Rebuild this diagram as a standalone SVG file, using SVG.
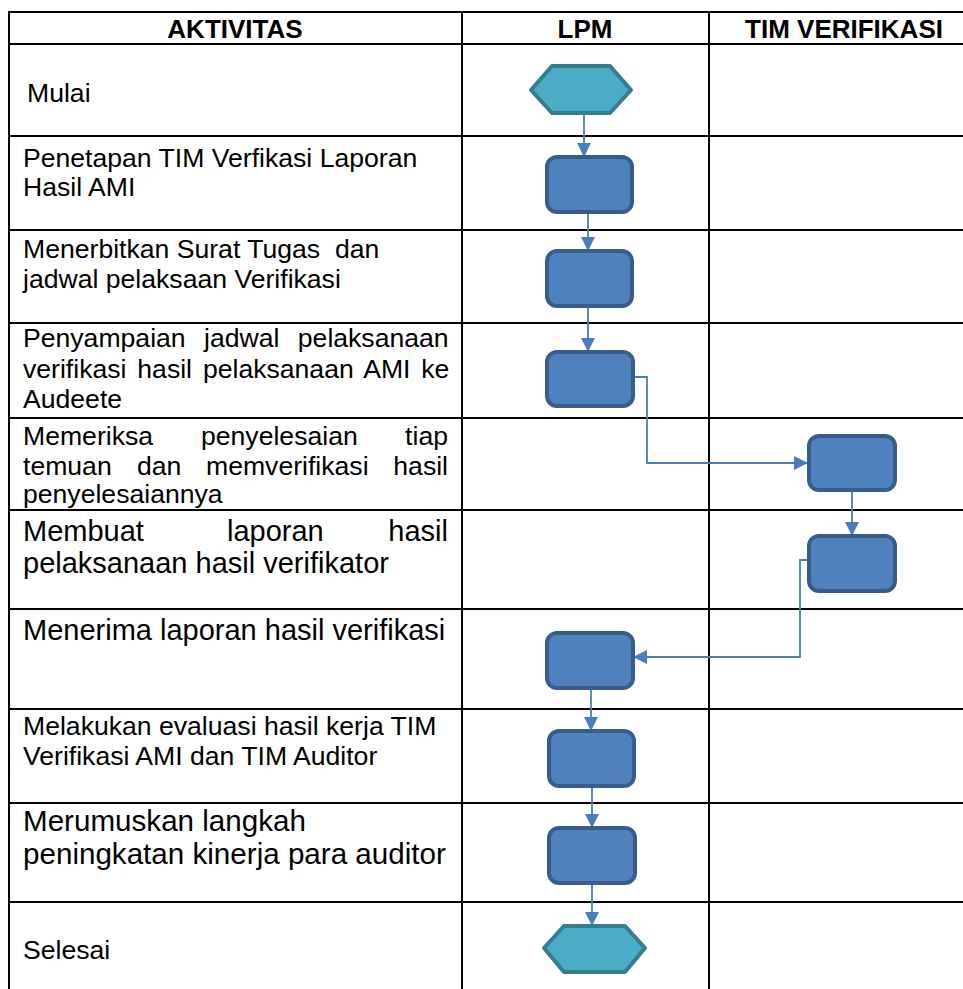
<svg xmlns="http://www.w3.org/2000/svg" width="963" height="989" viewBox="0 0 963 989">
<style>
.grid{stroke:#000;stroke-width:2;fill:none}
.hd{font-family:"Liberation Sans",Arial,sans-serif;font-weight:bold;font-size:26px;fill:#000;text-anchor:middle}
.t{font-family:"Liberation Sans",Arial,sans-serif;font-size:26.6px;fill:#000}
.tb{font-family:"Liberation Sans",Arial,sans-serif;font-size:29px;fill:#000}
.box{fill:#4F81BD;stroke:#385D8A;stroke-width:4}
.hex{fill:#4BACC6;stroke:#357D91;stroke-width:4;stroke-linejoin:round}
.cn{fill:none;stroke:#4A7EBB;stroke-width:1.8}
</style>
<defs>
<marker id="ah" viewBox="0 0 10 10" refX="10" refY="5" markerWidth="8" markerHeight="8" markerUnits="strokeWidth" orient="auto">
<path d="M0,0 L10,5 L0,10 z" fill="#4A7EBB"/>
</marker>
</defs>
<rect width="963" height="989" fill="#fff"/>
<g id="table">
<path class="grid" d="M9,12 H975 M9,44 H975 M9,136 H975 M9,230 H975 M9,323 H975 M9,418 H975 M9,510 H975 M9,609 H975 M9,709 H975 M9,803 H975 M9,902 H975 M9,11 V990 M462,12 V990 M709,12 V990"/>
<text class="hd" x="235" y="38">AKTIVITAS</text>
<text class="hd" x="585" y="38">LPM</text>
<text class="hd" x="844" y="38">TIM VERIFIKASI</text>
</g>
<g id="labels">
<text class="t" x="27" y="102">Mulai</text>
<text class="t" x="23" y="167">Penetapan TIM Verfikasi Laporan</text>
<text class="t" x="23" y="196">Hasil AMI</text>
<text class="t" x="23" y="258" xml:space="preserve">Menerbitkan Surat Tugas  dan</text>
<text class="t" x="23" y="288">jadwal pelaksaan Verifikasi</text>
<text class="t" x="23" y="347" word-spacing="11">Penyampaian jadwal pelaksanaan</text>
<text class="t" x="23" y="378" word-spacing="3.5">verifikasi hasil pelaksanaan AMI ke</text>
<text class="t" x="23" y="408">Audeete</text>
<text class="t" y="445"><tspan x="23">Memeriksa</tspan><tspan x="201">penyelesaian</tspan><tspan x="448" text-anchor="end">tiap</tspan></text>
<text class="t" y="475"><tspan x="23">temuan</tspan><tspan x="137">dan</tspan><tspan x="206">memverifikasi</tspan><tspan x="448" text-anchor="end">hasil</tspan></text>
<text class="t" x="23" y="503">penyelesaiannya</text>
<text class="tb" y="541"><tspan x="23">Membuat</tspan><tspan x="227">laporan</tspan><tspan x="448" text-anchor="end">hasil</tspan></text>
<text class="tb" x="23" y="573">pelaksanaan hasil verifikator</text>
<text class="tb" x="23" y="640">Menerima laporan hasil verifikasi</text>
<text class="t" x="23" y="735">Melakukan evaluasi hasil kerja TIM</text>
<text class="t" x="23" y="765">Verifikasi AMI dan TIM Auditor</text>
<text class="tb" x="23" y="831" style="font-size:29.6px">Merumuskan langkah</text>
<text class="tb" x="23" y="864" style="font-size:29.6px">peningkatan kinerja para auditor</text>
<text class="t" x="23" y="959">Selesai</text>
</g>
<g id="connectors">
<path class="cn" d="M584,114 V157" marker-end="url(#ah)"/>
<path class="cn" d="M588,212 V251" marker-end="url(#ah)"/>
<path class="cn" d="M588,306 V352" marker-end="url(#ah)"/>
<path class="cn" d="M633,377 H647 V463 H808" marker-end="url(#ah)"/>
<path class="cn" d="M852,490 V536" marker-end="url(#ah)"/>
<path class="cn" d="M808,560 H800 V657 H633" marker-end="url(#ah)"/>
<path class="cn" d="M591,688 V731" marker-end="url(#ah)"/>
<path class="cn" d="M592,786 V828" marker-end="url(#ah)"/>
<path class="cn" d="M592,883 V926" marker-end="url(#ah)"/>
</g>
<g id="n-start"><polygon class="hex" points="531,90 552,66 610,66 631,90 610,113 552,113"/></g>
<g id="n-penetapan"><rect class="box" x="547" y="157" width="85" height="55" rx="10"/></g>
<g id="n-menerbitkan"><rect class="box" x="547" y="251" width="85" height="55" rx="10"/></g>
<g id="n-penyampaian"><rect class="box" x="547" y="352" width="86" height="54" rx="10"/></g>
<g id="n-memeriksa"><rect class="box" x="809" y="436" width="86" height="54" rx="10"/></g>
<g id="n-membuat"><rect class="box" x="809" y="536" width="86" height="55" rx="10"/></g>
<g id="n-menerima"><rect class="box" x="547" y="633" width="86" height="55" rx="10"/></g>
<g id="n-evaluasi"><rect class="box" x="549" y="731" width="85" height="55" rx="10"/></g>
<g id="n-merumuskan"><rect class="box" x="549" y="828" width="86" height="55" rx="10"/></g>
<g id="n-selesai"><polygon class="hex" points="544,948 564,926 625,926 645,948 625,972 564,972"/></g>
</svg>
